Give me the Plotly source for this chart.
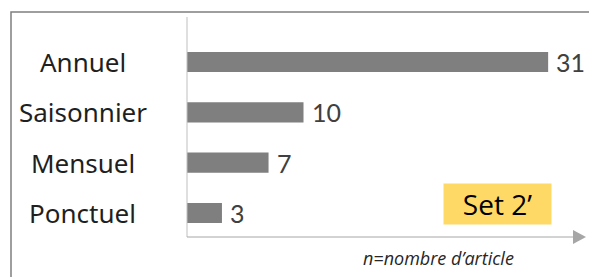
import plotly.graph_objects as go

categories = ["Annuel", "Saisonnier", "Mensuel", "Ponctuel"]
values = [31, 10, 7, 3]
badge_text = "Set 2’"
axis_note = "n=nombre d’article"

W, H = 589, 277
L, R, T, B = 187, 4, 17, 40
pw, ph = W - L - R, H - T - B
px_per_unit = 11.65

def px(xp):
    return (xp - L) / pw

def py(yp):
    return (H - B - yp) / ph

fig = go.Figure()
fig.add_trace(go.Bar(
    y=categories, x=values, orientation="h",
    marker=dict(color="#7F7F7F", line=dict(width=0)),
    width=0.4, hoverinfo="skip",
))

annotations = []
for c, v in zip(categories, values):
    annotations.append(dict(x=v, y=c, xref="x", yref="y", text=str(v),
                            showarrow=False, xanchor="left", xshift=6,
                            font=dict(family="Lato", size=25, color="#404040")))
    annotations.append(dict(x=px(83), y=c, xref="paper", yref="y", text=c,
                            showarrow=False, xanchor="center",
                            font=dict(family="Noto Sans", size=26, color="#1f1f1f")))

annotations.append(dict(x=px(497.5), y=py(204), xref="paper", yref="paper",
                        text=badge_text, showarrow=False,
                        xanchor="center", yanchor="middle",
                        width=105, height=38, bgcolor="#FFD966",
                        font=dict(family="Open Sans", size=28, color="#000000")))
annotations.append(dict(x=px(438.5), y=py(258), xref="paper", yref="paper",
                        text="<i>" + axis_note + "</i>", showarrow=False,
                        xanchor="center", yanchor="middle",
                        font=dict(family="Open Sans", size=18, color="#262626")))

shapes = [
    dict(type="path", xref="paper", yref="paper",
         path=f"M {px(11)} {py(278)} L {px(11)} {py(12)} L {px(590)} {py(12)}",
         line=dict(color="#7F7F7F", width=1.5)),
    dict(type="line", xref="paper", yref="paper",
         x0=px(187), x1=px(187), y0=py(17), y1=py(237),
         line=dict(color="#BFBFBF", width=1)),
    dict(type="line", xref="paper", yref="paper",
         x0=px(187), x1=px(574), y0=py(237), y1=py(237),
         line=dict(color="#A6A6A6", width=1)),
    dict(type="path", xref="paper", yref="paper",
         path=f"M {px(573)} {py(230)} L {px(586)} {py(237)} L {px(573)} {py(244)} Z",
         fillcolor="#A6A6A6", line=dict(width=0)),
]

fig.update_layout(
    width=W, height=H,
    margin=dict(l=L, r=R, t=T, b=B),
    paper_bgcolor="white", plot_bgcolor="white",
    showlegend=False,
    xaxis=dict(range=[0, pw / px_per_unit], visible=False, fixedrange=True),
    yaxis=dict(type="category", categoryorder="array", categoryarray=categories,
               range=[3.477, -0.894], visible=False, fixedrange=True),
    annotations=annotations, shapes=shapes,
)

fig.write_html("out.html", config={"displayModeBar": False},
               post_script="document.body.style.margin='0';document.body.style.overflow='hidden';")
